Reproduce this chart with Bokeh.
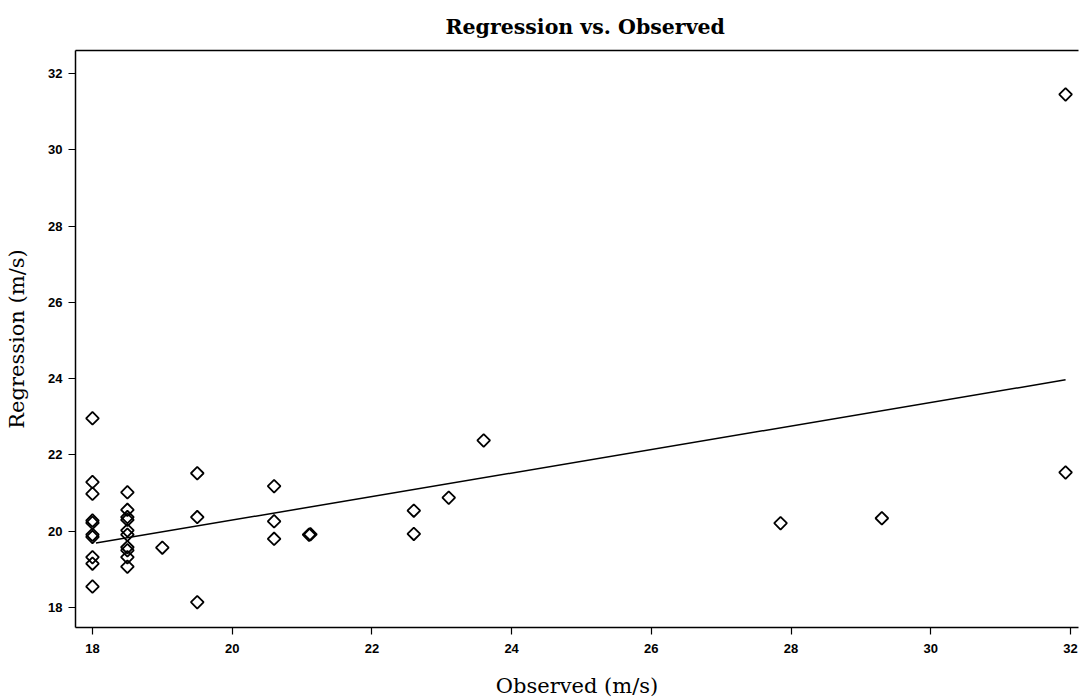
import math
from bokeh.plotting import figure
from bokeh.models import Range1d, LinearAxis, FixedTicker
from bokeh.embed import file_html
from bokeh.resources import INLINE

# Observed (m/s)
observed = [18.0, 18.0, 18.0, 18.0, 18.0, 18.0, 18.0, 18.0, 18.0, 18.0,
            18.5, 18.5, 18.5, 18.5, 18.5, 18.5, 18.5, 18.5, 18.5, 18.5,
            19.0, 19.5, 19.5, 19.5,
            20.6, 20.6, 20.6, 21.1, 21.12,
            22.6, 22.6, 23.1, 23.6,
            27.85, 29.3, 31.93, 31.93]
# Regression (m/s)
regression = [22.96, 21.29, 20.98, 20.28, 20.22, 19.91, 19.85, 19.32, 19.15, 18.55,
              21.02, 20.56, 20.37, 20.30, 20.02, 19.91, 19.58, 19.50, 19.32, 19.07,
              19.57, 21.52, 20.37, 18.14,
              21.18, 20.26, 19.80, 19.91, 19.92,
              20.54, 19.93, 20.88, 22.38,
              20.21, 20.34, 21.54, 31.45]

# regression line end points
fit_x = [18.05, 31.93]
fit_y = [19.69, 23.97]

x_ticks = [18, 20, 22, 24, 26, 28, 30, 32]
y_ticks = [18, 20, 22, 24, 26, 28, 30, 32]

p = figure(width=1080, height=700, output_backend="svg", toolbar_location=None,
           x_range=Range1d(17.757, 32.115), y_range=Range1d(17.476, 32.603),
           title="Regression vs. Observed",
           min_border_left=75, min_border_right=2, min_border_top=50, min_border_bottom=73)

p.title.align = "left"
p.title.offset = 370
p.title.text_font = "DejaVu Serif"
p.title.text_font_size = "20.5px"
p.title.text_font_style = "bold"
p.title.text_color = "black"
p.title.standoff = 24

p.xgrid.visible = False
p.ygrid.visible = False
p.outline_line_color = None
p.background_fill_color = "white"
p.border_fill_color = "white"

for ax, ticks in ((p.xaxis[0], x_ticks), (p.yaxis[0], y_ticks)):
    ax.ticker = FixedTicker(ticks=ticks)
    ax.axis_line_color = "black"
    ax.axis_line_width = 1.5
    ax.major_tick_line_color = "black"
    ax.major_tick_line_width = 1.2
    ax.major_tick_in = 0
    ax.minor_tick_line_color = None
    ax.major_label_text_font = "Liberation Sans"
    ax.major_label_text_font_style = "bold"
    ax.major_label_text_font_size = "13px"
    ax.major_label_text_color = "black"
    ax.axis_label_text_font = "DejaVu Serif"
    ax.axis_label_text_font_style = "normal"
    ax.axis_label_text_font_size = "21px"
    ax.axis_label_text_color = "black"

p.xaxis[0].axis_label = "Observed (m/s)"
p.xaxis[0].major_tick_out = 7
p.xaxis[0].major_label_standoff = 9
p.xaxis[0].axis_label_standoff = 18

p.yaxis[0].axis_label = "Regression (m/s)"
p.yaxis[0].major_tick_out = 7
p.yaxis[0].major_label_standoff = 6
p.yaxis[0].axis_label_standoff = 16

top = LinearAxis(ticker=FixedTicker(ticks=[]), axis_line_color="black", axis_line_width=1.5,
                 major_tick_line_color=None, minor_tick_line_color=None,
                 major_label_text_font_size="0px")
p.add_layout(top, "above")

p.line(fit_x, fit_y, line_color="black", line_width=1.5)
p.scatter(observed, regression, marker="square", angle=math.pi / 4, size=9,
          fill_color=None, line_color="black", line_width=1.8)

open("out.html", "w").write(file_html(p, INLINE))
